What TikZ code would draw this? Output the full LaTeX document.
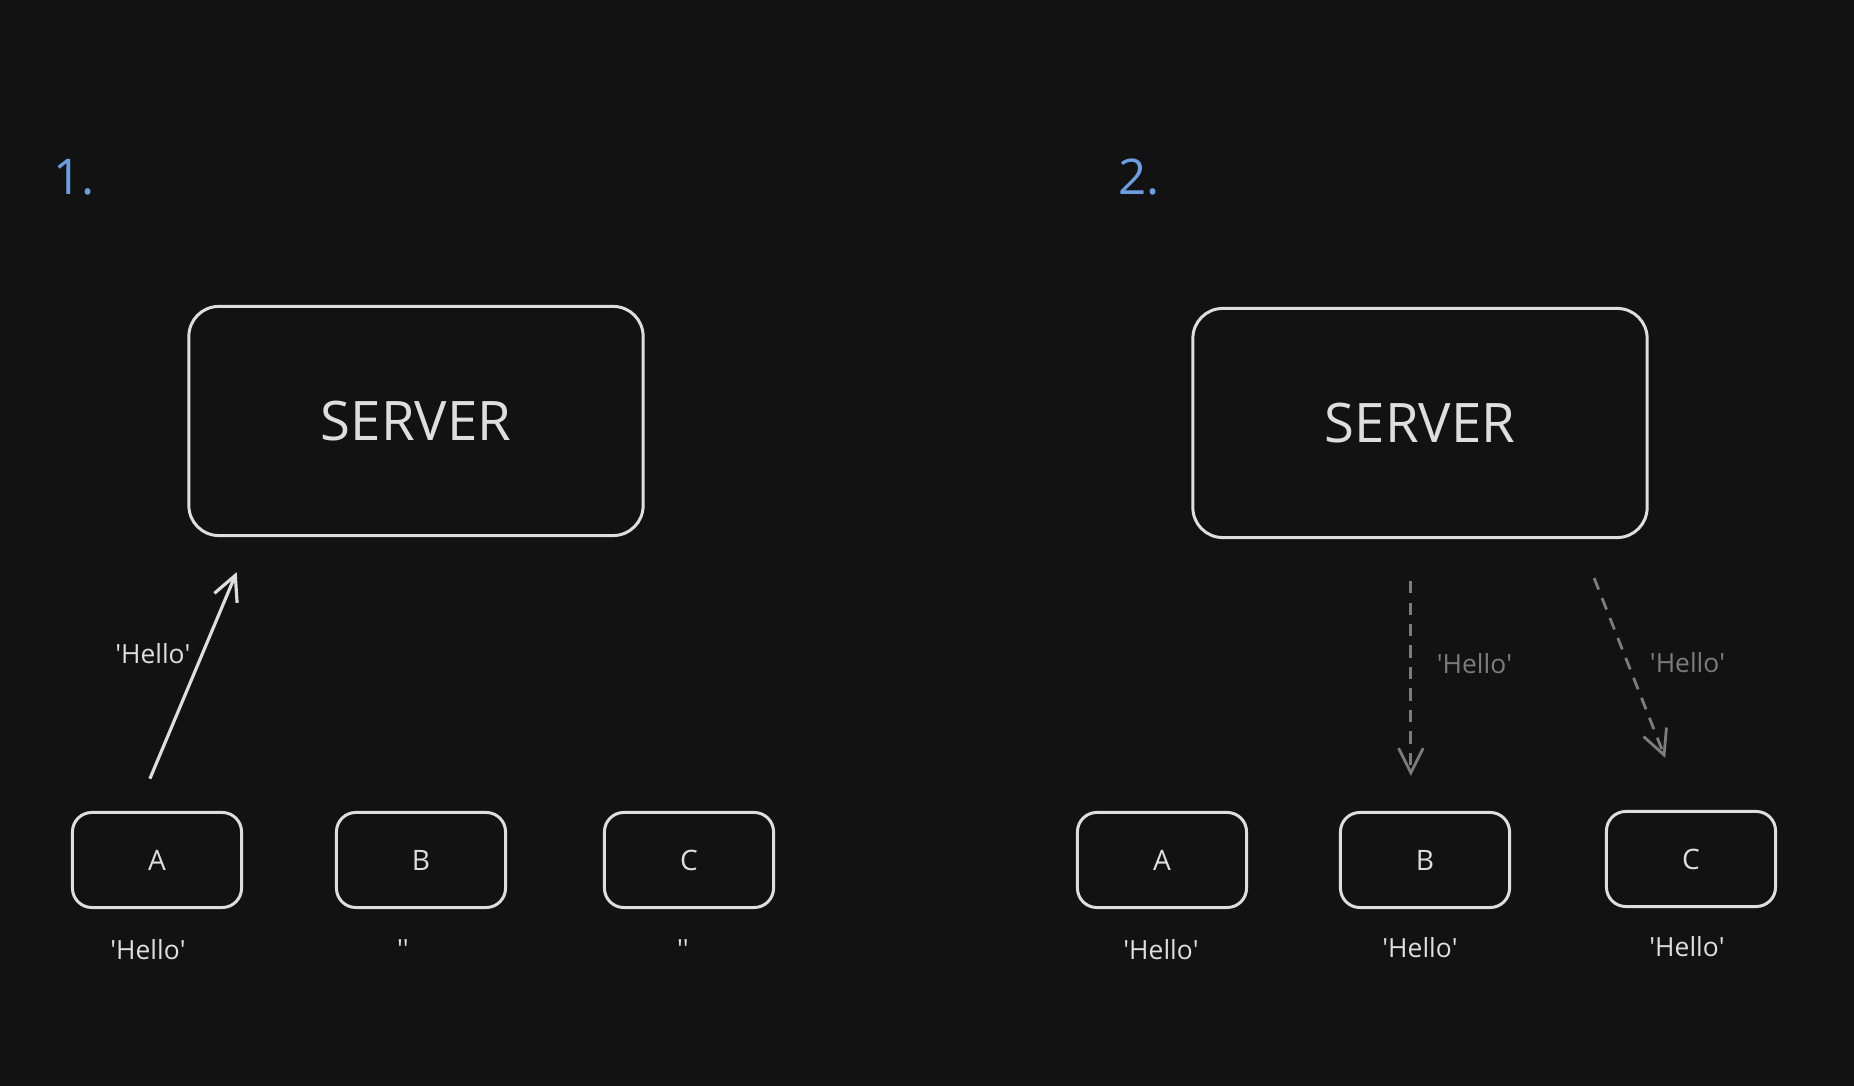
\documentclass[tikz,border=0pt]{standalone}
\usepackage{fontspec}
\setmainfont{Open Sans}
\usetikzlibrary{arrows.meta, calc, positioning}

\definecolor{canvas}{HTML}{121212}
\definecolor{ink}{HTML}{DEDEDE}
\definecolor{faint}{HTML}{7C7C7C}
\definecolor{numblue}{HTML}{6C9FE2}
\newcommand{\q}{\textquotesingle}

\begin{document}
\begin{tikzpicture}[x=0.01cm, y=-0.01cm,
  server/.style = {draw=ink, text=ink, line width=0.85pt, rounded corners=8.5pt,
    minimum width=4.54cm, minimum height=2.29cm, font=\fontsize{15.5}{18}\selectfont},
  client/.style = {draw=ink, text=ink, line width=0.85pt, rounded corners=5.5pt,
    minimum width=1.69cm, minimum height=0.95cm, font=\fontsize{8}{10}\selectfont},
  tag/.style = {text=ink, inner sep=0pt, font=\fontsize{7.5}{9}\selectfont},
  numtag/.style = {text=numblue, inner sep=0pt, font=\fontsize{14}{17}\selectfont},
  send/.style = {draw=ink, line width=0.9pt, -{Straight Barb[length=7pt, width=7pt]}},
  relay/.style = {draw=faint, line width=0.8pt, dash pattern=on 3.5pt off 2.6pt,
    -{Straight Barb[length=7pt, width=7pt]}}]

  \fill[canvas] (0,0) rectangle (1854,1086);

  % 1. client A sends
  \node[numtag] (n1) at (74,177) {1.};
  \node[server] (srv1) at (416,421) {SERVER};
  \node[client] (a1) at (157,860) {A};
  \node[client] (b1) at (421,860) {B};
  \node[client] (c1) at (689,860) {C};
  \node[tag, below=8.5pt of a1, xshift=-0.09cm] (la1) {\q Hello\q};
  \node[tag, below=8.5pt of b1, xshift=-0.18cm] (lb1) {\q\q};
  \node[tag, below=8.5pt of c1, xshift=-0.06cm] (lc1) {\q\q};

  \draw[send, shorten <=0.35cm, shorten >=0.38cm]
    ($(a1.north west)!0.38!(a1.north east)$) -- ($(srv1.south west)!0.14!(srv1.south east)$)
    node[tag, pos=0.576, left=3pt] (m1) {\q Hello\q};

  % 2. server relays to B and C
  \node[numtag] (n2) at (1139,177) {2.};
  \node[server] (srv2) at (1420,423) {SERVER};
  \node[client] (a2) at (1162,860) {A};
  \node[client] (b2) at (1425,860) {B};
  \node[client] (c2) at (1691,859) {C};
  \node[tag, below=8.5pt of a2, xshift=-0.01cm] (la2) {\q Hello\q};
  \node[tag, below=8pt of b2, xshift=-0.05cm] (lb2) {\q Hello\q};
  \node[tag, below=8pt of c2, xshift=-0.04cm] (lc2) {\q Hello\q};

  \coordinate (o2) at ($(srv2.south west)!0.48!(srv2.south east)$);
  \draw[relay, shorten <=0.42cm, shorten >=0.35cm] (o2) -- (o2 |- b2.north)
    node[tag, text=faint, pos=0.458, right=7pt] (m2) {\q Hello\q};
  \draw[relay, shorten <=0.42cm, shorten >=0.56cm]
    ($(srv2.south west)!0.847!(srv2.south east)$) -- ($(c2.north west)!0.47!(c2.north east)$)
    node[tag, text=faint, pos=0.455, right=6pt] (m3) {\q Hello\q};
\end{tikzpicture}
\end{document}
